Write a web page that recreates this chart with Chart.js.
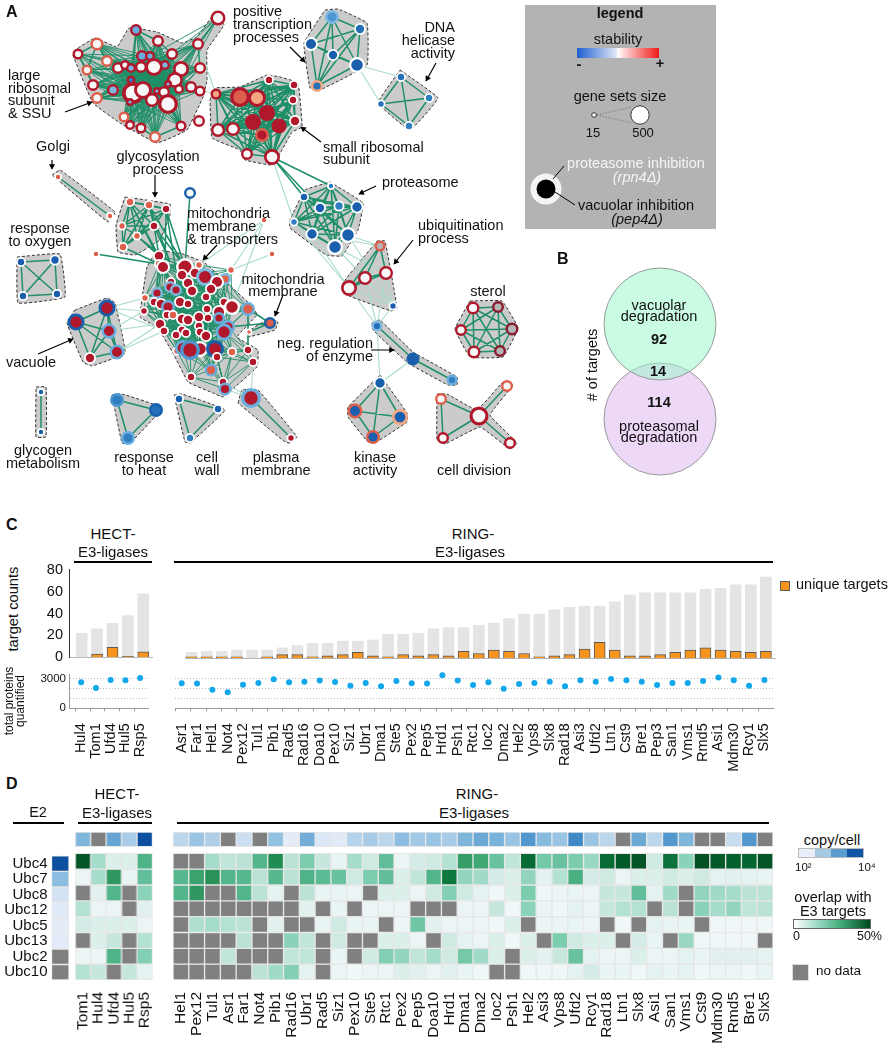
<!DOCTYPE html>
<html>
<head>
<meta charset="utf-8">
<script src="https://cdn.jsdelivr.net/npm/chart.js"></script>
<style>
  html, body { margin: 0; background: #fff; }
  #page { position: relative; width: 895px; height: 1050px; overflow: hidden; font-family: "Liberation Sans", Arial, sans-serif; color: #111; }
  #page canvas { position: absolute; }
  .t { position: absolute; white-space: nowrap; font-size: 14.5px; line-height: 1; }
  .box { position: absolute; }
</style>
</head>
<body>
<div id="page"></div>
<script>
// ---- panel C data
const cHectNames = ['Hul4','Tom1','Ufd4','Hul5','Rsp5'];
const cHectTotal = [22,26,31,38,58];
const cHectUnique = [0,3,9,1,5];
const cHectProteins = [2650,2070,2900,2860,3100];
const cRingNames = ['Asr1','Far1','Hel1','Not4','Pex12','Tul1','Pib1','Rad5','Rad16','Doa10','Pex10','Siz1','Ubr1','Dma1','Ste5','Pex2','Pep5','Hrd1','Psh1','Rtc1','Ioc2','Dma2','Hel2','Vps8','Slx8','Rad18','Asi3','Ufd2','Ltn1','Cst9','Bre1','Pep3','San1','Vms1','Rmd5','Asi1','Mdm30','Rcy1','Slx5'];
const cRingTotal = [5,6,6,7,7,7,9,11,13,13,15,15,16,21,21,22,26,27,27,29,31,35,39,39,43,45,46,46,50,56,58,58,58,58,61,62,65,65,72];
const cRingUnique = [1,1,1,1,0,1,3,3,1,2,3,5,2,1,3,2,3,2,6,4,7,6,4,1,2,3,8,14,7,2,2,3,5,7,9,7,6,5,6];
const cRingProteins = [2550,2520,1900,1650,2410,2590,2970,2650,2720,2830,2690,2310,2590,2240,2790,2550,2520,3380,2830,2380,2650,2000,2480,2590,2720,2240,2860,2720,3000,2860,2720,2380,2590,2590,2790,3140,2860,2310,2900];

// ---- panel D data (null = no data)
const e2Names = ['Ubc4','Ubc7','Ubc8','Ubc12','Ubc5','Ubc13','Ubc2','Ubc10'];
const e2Copies = [4,2.9,2.3,2.15,2.1,2.12,null,null];
const dHectNames = ['Tom1','Hul4','Ufd4','Hul5','Rsp5'];
const dHectCopies = [3,null,3.2,2.7,4];
const dHectOverlap = [
  [48,14,6,6,28],
  [2,14,34,3,24],
  [null,5,27,null,18],
  [12,2,2,null,5],
  [7,6,6,6,2],
  [null,6,9,null,12],
  [2,2,28,null,19],
  [12,9,null,9,4]
];
const dRingNames = ['Hel1','Pex12','Tul1','Asr1','Far1','Not4','Pib1','Rad16','Ubr1','Rad5','Siz1','Pex10','Ste5','Rtc1','Pex2','Pep5','Doa10','Hrd1','Dma1','Dma2','Ioc2','Psh1','Hel2','Asi3','Vps8','Ufd2','Rcy1','Rad18','Ltn1','Slx8','Asi1','San1','Vms1','Cst9','Mdm30','Rmd5','Bre1','Slx5'];
const dRingCopies = [2.55,2.8,2.65,null,2.4,null,2.85,2.1,3.1,2.2,2.15,2.6,2.7,2.55,2.9,2.75,2.8,2.7,3,3.15,3.05,2.8,3.35,2.95,2.8,3.5,2.8,2.55,null,3.15,2.55,3.35,3,null,null,2.45,3.35,null];
const dRingOverlap = [
  [null,null,14,10,11,27,37,11,20,9,3,14,8,24,2,7,8,12,33,31,23,10,44,21,23,20,16,44,47,48,8,43,18,49,47,46,45,48],
  [26,32,35,27,26,11,26,11,28,25,23,8,20,24,6,10,27,42,17,15,7,6,17,4,12,29,7,8,2,6,6,8,6,8,4,5,4,3],
  [27,34,null,null,27,11,4,null,11,3,3,2,null,6,6,2,8,19,8,4,1,6,20,1,2,3,2,9,9,24,4,15,null,17,15,14,11,11],
  [null,null,null,null,null,null,null,null,5,null,3,null,2,2,2,null,null,null,2,2,9,1,18,2,1,4,2,9,12,12,null,11,null,18,14,17,10,11],
  [null,13,14,12,11,null,5,null,null,3,8,3,3,null,2,22,5,2,2,2,1,6,null,2,3,3,2,null,1,null,4,3,3,null,1,1,1,1],
  [null,null,null,null,11,null,null,18,10,null,8,null,null,6,6,2,null,8,4,2,6,1,6,null,20,8,6,6,null,7,3,null,16,1,1,1,1,null],
  [null,null,null,10,null,null,null,10,10,null,3,null,8,19,17,10,14,8,21,15,6,null,6,4,9,23,4,2,2,6,2,2,4,3,5,5,5,4],
  [null,null,null,null,null,11,15,19,4,null,2,1,2,2,6,5,2,5,3,1,null,null,1,1,1,4,7,3,3,1,4,3,4,1,2,2,1,3]
];

// ---- panel B data
const vennCounts = [92,14,114];

// ---- panel A data: gene sets as [x, y, size, proteasome stability, vacuolar stability] on the map layout
const riboLarge = [[218,18,7.5,1,0],[136,30,6,1,-.6],[158,41,6,1,0],[198,44,6,1,0],[97,44,6.5,.6,0],[78,54,5.5,1,0],[172,54,6,1,0],[107,61,6,.6,0],[87,70,5.5,.6,0],[142,56,6,1,-.6],[150,56,5,1,-.6],[118,68,6,1,0],[125,65,5,1,0],[141,67,6,1,0],[154,67,9,1,0],[165,65,5,1,-.5],[181,69,8,1,0],[200,68,6,1,0],[131,68,5,1,-.5],[131,80,4.5,1,-.8],[93,85,6,1,0],[113,90,6,1,-.5],[175,80,8,1,0],[168,84,4,1,-.5],[191,87,6,1,0],[200,91,5.5,1,0],[179,89,5,1,0],[133,93,11,1,0],[143,90,9,1,0],[157,91,4,1,-.5],[164,92,6,1,0],[152,100,7,1,0],[168,104,10,1,0],[97,98,6,.6,0],[130,102,4,1,-.5],[124,117,5.5,.6,0],[130,125,5,1,0],[141,128,5.5,1,0],[181,126,5.5,1,0],[155,137,6,.6,0]];
const riboSmall = [[216,94,5.5,1,.4],[240,97,10,1,.6],[257,98,9,1,.4],[267,113,8,1,1],[253,122,8,1,1],[279,126,7.5,1,1],[262,135,7,.6,1],[218,130,7,1,0],[233,129,7,1,0],[247,154,6,1,0],[272,157,8,1,0],[269,80,5,0,1],[294,85,5,0,1],[293,100,5,0,1],[295,121,6,0,1]];
const transcription = [[332,17,7,-.5,-.7],[360,29,6,0,-.9],[311,44,7,0,-1],[333,55,6,0,-1],[357,65,8,0,-1],[317,86,6,.4,-.9]];
const helicase = [[401,77,5,0,-.9],[429,98,5,0,-.8],[381,104,4.5,0,-.9],[409,126,5,0,-.8]];
const proteasome = [[331,186,4,0,-.8],[304,197,5,0,-1],[320,208,6,0,-1],[339,206,5.5,0,-.8],[357,207,6.5,0,-1],[294,222,4.5,0,-.8],[312,234,6.5,0,-1],[348,235,8,0,-1],[335,247,8,0,-1]];
const ubiquitin = [[380,246,5.5,.6,null],[365,278,7,1,0],[386,273,7,1,0],[349,288,8,1,0]];
const ubiquitinSmall = [[393,306,4.5,0,-1]];
const negRegulation = [[377,326,5.5,-.5,-.9],[413,359,6.5,-1,-1],[452,380,5.5,-.6,-.8]];
const kinase = [[380,383,6.5,0,-1],[355,411,7.5,.6,-1],[400,417,8,.4,-1],[373,437,7,.6,-1]];
const cellDivision = [[441,399,6,.6,0],[507,386,6,.6,0],[479,416,9.5,1,0],[443,438,6,1,0],[510,443,6,1,0]];
const sterol = [[473,308,6.5,1,0],[498,307,6,1.3,null],[461,330,6,1,0],[512,329,6.5,1.3,null],[474,352,6.5,1,0],[500,351,6,1.3,null]];
const oxygen = [[21,262,5,0,-1],[55,260,5.5,0,-1],[23,296,5,0,-1],[57,294,5,0,-1]];
const vacuole = [[107,308,8.5,-1,1],[76,322,8.5,-1,1],[109,331,7.5,-.6,1],[117,352,7.5,-.6,1],[90,358,6,0,1]];
const glycogen = [[41,392,4,0,-1],[41,432,4,0,-1]];
const heat = [[117,400,7,-.7,-.8],[156,410,7,-1,-.9],[128,438,7,-.6,-.8]];
const cellWall = [[179,399,5,0,-1],[218,409,5,0,-1],[190,438,5,0,-.8]];
const plasma = [[251,398,10,-.6,1],[291,438,4.5,0,1]];
const golgi = [[58,177,4,0,.6],[110,216,4,0,.6]];
const glycosylation = [[130,202,5,0,.6],[149,205,5,0,.6],[166,209,5,0,1],[122,226,4.5,0,.6],[154,226,5,0,1],[137,236,4.5,0,.6],[123,247,5,0,.6]];
const mitoMembrane = [[270,323,6,-1,.6],[249,332,3.5,0,.6]];
const loose = [[190,193,6,-1,0],[264,220,4,0,.6],[96,254,4,0,.6],[272,254,4,0,.6],[199,121,6,1,0]];
const mito = [[159,256,6,0,1],[159,264,5,0,.6],[163,267,7,0,1],[185,267,9,0,1],[199,265,4.5,0,.6],[182,275,6,0,1],[195,273,6,0,1],[205,277,9,-.5,1],[231,270,4.5,0,.6],[225,279,6,-.5,.6],[217,282,7,0,1],[171,282,5,0,1],[170,287,6,-.5,1],[176,290,6,-.5,1],[188,283,6,0,1],[192,291,6,0,1],[211,289,6,0,1],[157,293,6,-.5,1],[145,298,4.5,0,.6],[144,311,4.5,0,1],[154,302,5,0,1],[161,304,6,0,1],[168,307,7,-.6,1],[180,302,6,0,1],[188,304,5,0,1],[206,297,5,0,1],[224,302,5,0,1],[232,307,8,0,1],[248,309,7,-.6,.6],[219,312,7,0,1],[207,309,5,0,1],[167,315,5,0,1],[173,315,5,0,.6],[182,319,6,0,1],[188,320,6,0,1],[199,317,6,0,1],[208,318,5,0,1],[219,318,6,-.6,1],[160,324,6,0,1],[164,331,5,0,1],[182,330,5,0,1],[199,326,5,0,1],[200,332,5,0,1],[176,335,5,0,1],[186,333,5,0,1],[206,336,6,0,1],[228,327,7,-.6,1],[224,332,8.5,-.6,1],[177,351,4.5,0,.6],[183,348,8,-.6,1],[200,349,8,0,1],[190,350,10,-.7,1],[215,349,9,-1,1],[217,357,5,0,1],[232,352,5,0,.6],[248,350,5,0,1],[253,362,5,0,1],[211,370,6.5,-.6,.6],[191,377,5,0,1],[223,382,5,0,1],[225,389,6.5,-.6,1]];

// cluster outlines on the same layout
const hulls = [
  [[78,48],[95,38],[117,47],[129,28],[157,32],[182,43],[197,37],[215,13],[224,25],[207,50],[207,80],[203,97],[187,130],[157,143],[120,123],[93,103],[73,55]],
  [[210,100],[215,88],[240,87],[267,75],[280,77],[298,83],[302,127],[292,132],[282,150],[272,165],[245,160],[240,150],[212,138]],
  [[325,10],[338,9],[367,23],[367,65],[320,90],[310,88],[304,43]],
  [[400,70],[438,98],[410,130],[378,103]],
  [[330,182],[363,203],[358,230],[342,256],[326,255],[290,228],[290,220],[305,190]],
  [[377,241],[385,241],[397,308],[391,311],[347,295],[343,283]],
  [[372,323],[380,320],[413,352],[457,377],[457,385],[448,385],[408,363],[373,330]],
  [[380,375],[407,413],[407,422],[375,443],[368,442],[348,417],[348,407]],
  [[437,394],[447,394],[477,410],[503,382],[513,385],[490,415],[517,443],[510,449],[480,427],[445,444],[437,440]],
  [[470,301],[502,301],[518,328],[503,357],[470,357],[455,329]],
  [[17,257],[60,254],[65,297],[18,303]],
  [[75,310],[107,298],[115,303],[125,353],[92,366],[83,362],[67,323]],
  [[36,387],[46,387],[46,437],[36,437]],
  [[112,395],[122,394],[162,408],[130,443],[122,443]],
  [[174,395],[182,394],[225,410],[190,443],[185,442]],
  [[238,403],[242,390],[258,390],[297,437],[290,443],[285,442]],
  [[52,175],[60,170],[115,212],[108,222]],
  [[125,197],[170,204],[170,215],[160,240],[135,255],[118,252],[116,225]],
  [[157,250],[183,254],[205,263],[227,283],[253,307],[257,315],[237,337],[258,350],[257,367],[223,397],[213,393],[188,382],[173,353],[157,327],[140,317],[147,267]],
  [[247,332],[270,318],[278,322],[275,330],[248,337]]
];

// links between clusters [x1,y1,x2,y2]
const paleLinks = [[200,50,216,94],[203,91,216,94],[357,65,401,77],[357,65,381,104],[272,157,294,222],[312,234,380,246],[348,235,380,246],[335,247,365,278],[335,247,386,273],[312,234,349,288],[348,235,393,306],[294,222,349,288],[349,288,377,326],[365,278,377,326],[393,306,377,326],[386,273,377,326],[377,326,380,383],[413,359,380,383],[107,308,145,298],[107,308,144,311],[109,331,160,324],[117,352,164,331],[107,308,164,331],[117,352,160,324],[109,331,144,311],[223,382,251,398],[225,389,251,398],[253,362,251,398],[264,220,231,270],[272,254,231,270],[264,220,199,265],[232,307,264,220],[380,246,393,306],[365,278,393,306],[386,273,393,306],[349,288,393,306]];
const strongLinks = [[272,157,331,186],[272,157,304,197],[272,157,320,208],[96,254,159,264],[166,209,165,270],[154,226,170,262],[149,205,182,262],[166,209,185,267],[137,236,159,256],[123,247,159,264],[154,226,159,256],[130,202,163,267],[190,193,185,267],[248,309,270,323],[228,327,270,323],[249,332,270,323],[166,209,176,270],[149,205,170,262],[154,226,185,267],[137,236,170,262],[130,202,159,256]];
const riboOuterLinks = [[97,44,78,54],[78,54,87,70],[97,44,87,70],[97,44,107,61],[87,70,93,85],[93,85,113,90],[78,54,93,85],[107,61,118,68],[136,30,158,41],[158,41,172,54],[172,54,198,44],[198,44,218,18],[198,44,200,68],[130,125,141,128],[124,117,130,125],[155,137,141,128],[181,126,168,104],[155,137,181,126],[97,98,113,90]];
const cellDivisionLinks = [[441,399,479,416],[507,386,479,416],[443,438,479,416],[510,443,479,416],[441,399,443,438]];

// annotation arrows [tail x, tail y, tip x, tip y]
const arrows = [[65,112,92,102],[52,160,52,169],[155,175,155,197],[290,47,305,62],[436,63,426,81],[321,142,301,127],[376,186,359,194],[413,240,394,264],[217,245,203,260],[283,295,275,316],[371,350,394,350],[38,354,73,339]];

// [text, x, y centre, align]
const mapLabels = [
  ['large',8,75,'l'],['ribosomal',8,88,'l'],['subunit',8,100,'l'],['& SSU',8,113,'l'],
  ['positive',233,11,'l'],['transcription',233,24,'l'],['processes',233,37,'l'],
  ['DNA',455,27,'r'],['helicase',455,40,'r'],['activity',455,53,'r'],
  ['small ribosomal',323,147,'l'],['subunit',323,159,'l'],
  ['Golgi',53,146,'c'],['glycosylation',158,156,'c'],['process',158,169,'c'],
  ['mitochondria',187,213,'l'],['membrane',187,226,'l'],['& transporters',187,239,'l'],
  ['response',40,228,'c'],['to oxygen',40,241,'c'],
  ['proteasome',382,182,'l'],['ubiquitination',418,225,'l'],['process',418,238,'l'],
  ['sterol',488,291,'c'],['mitochondria',283,279,'c'],['membrane',283,291,'c'],
  ['neg. regulation',373,343,'r'],['of enzyme',373,356,'r'],
  ['vacuole',31,362,'c'],['glycogen',43,450,'c'],['metabolism',43,463,'c'],
  ['response',144,457,'c'],['to heat',144,470,'c'],['cell',207,457,'c'],['wall',207,470,'c'],
  ['plasma',276,457,'c'],['membrane',276,470,'c'],['kinase',375,457,'c'],['activity',375,470,'c'],['cell division',474,470,'c']
];

const page = document.getElementById('page');

function lerpStops(stops, v) {
  if (v <= stops[0][0]) return stops[0][1];
  for (let i = 1; i < stops.length; i++) {
    if (v <= stops[i][0]) {
      const f = (v - stops[i-1][0]) / (stops[i][0] - stops[i-1][0]);
      const a = stops[i-1][1], b = stops[i][1];
      const mix = [1,3,5].map(k => Math.round(parseInt(a.substr(k,2),16)*(1-f) + parseInt(b.substr(k,2),16)*f));
      return 'rgb(' + mix.join(',') + ')';
    }
  }
  return stops[stops.length-1][1];
}
const stabStops = [[-1,'#1a5fad'],[-.8,'#2f7ec1'],[-.6,'#6aaede'],[-.3,'#a7cfe9'],[0,'#f8f8f8'],[.4,'#f4a582'],[.6,'#dd5f4b'],[1,'#b2182b'],[1.3,'#8a1a2d']];
const overlapStops = [[0,'#f3f8fa'],[5,'#e2f1f0'],[10,'#c0e5d9'],[15,'#a0dac8'],[20,'#7cccae'],[25,'#5bbb95'],[30,'#45ad7c'],[35,'#2a9258'],[40,'#118447'],[45,'#03652f'],[50,'#004a20']];
const copyStops = [[2,'#eef1fb'],[2.5,'#c3daee'],[3,'#7fb6dc'],[3.5,'#3f8ac6'],[4,'#0d4f9f']];
const NO_DATA = '#808080';
const stabColor = v => v === null ? '#b5b5b5' : lerpStops(stabStops, v);
const overlapColor = v => v === null ? NO_DATA : lerpStops(overlapStops, v);
const copyColor = v => v === null ? NO_DATA : lerpStops(copyStops, v);

function text(str, x, y, opts) {
  opts = opts || {};
  const d = document.createElement('div');
  d.className = 't';
  d.textContent = str;
  const a = opts.align || 'c';
  const tx = a === 'l' ? '0' : a === 'r' ? '-100%' : '-50%';
  d.style.left = x + 'px';
  d.style.top = y + 'px';
  d.style.transform = 'translate(' + tx + ',-50%)' + (opts.rot ? ' rotate(' + opts.rot + 'deg)' : '');
  if (opts.size) d.style.fontSize = opts.size + 'px';
  if (opts.bold) d.style.fontWeight = 'bold';
  if (opts.italic) d.style.fontStyle = 'italic';
  if (opts.color) d.style.color = opts.color;
  page.appendChild(d);
  return d;
}
function box(x, y, w, h, css) {
  const d = document.createElement('div');
  d.className = 'box';
  d.style.cssText = 'left:' + x + 'px;top:' + y + 'px;width:' + w + 'px;height:' + h + 'px;' + (css || '');
  page.appendChild(d);
  return d;
}
function canvasAt(x, y, w, h) {
  const c = document.createElement('canvas');
  c.width = w; c.height = h;
  c.style.left = x + 'px'; c.style.top = y + 'px';
  c.style.width = w + 'px'; c.style.height = h + 'px';
  page.appendChild(c);
  return c;
}
const baseOptions = { responsive: false, animation: false, devicePixelRatio: 1, events: [], plugins: { legend: { display: false }, tooltip: { enabled: false } } };

// ---- panel A + B background box
box(525, 5, 191, 224, 'background:#b3b3b3');

function segs(list) {
  const pts = [];
  list.forEach(s => { pts.push({x:s[0],y:s[1]},{x:s[2],y:s[3]},{x:null,y:null}); });
  return pts;
}
function clique(nodes, maxDist) {
  const out = [];
  for (let i = 0; i < nodes.length; i++) for (let j = i+1; j < nodes.length; j++) {
    if (Math.hypot(nodes[i][0]-nodes[j][0], nodes[i][1]-nodes[j][1]) <= maxDist) out.push([nodes[i][0],nodes[i][1],nodes[j][0],nodes[j][1]]);
  }
  return out;
}
// every ribosomal gene set fans into the crowded middle of the cluster
const riboCore = riboLarge.filter(n => Math.hypot(n[0]-150, n[1]-85) < 30);
const riboFans = [];
riboLarge.forEach(n => riboCore.forEach(c => {
  if (n !== c && Math.hypot(n[0]-c[0], n[1]-c[1]) < 85) riboFans.push([n[0],n[1],c[0],c[1]]);
}));
const smallClusters = [riboSmall,transcription,helicase,proteasome,ubiquitin,kinase,sterol,oxygen,vacuole,glycogen,heat,cellWall,plasma,golgi,glycosylation,mitoMembrane];
const chainLinks = [[377,326,413,359],[413,359,452,380]];
let allEdges = [];
smallClusters.forEach(c => { allEdges = allEdges.concat(clique(c, 90)); });
allEdges = allEdges.concat(strongLinks, chainLinks, cellDivisionLinks, riboOuterLinks);
const denseEdges = riboFans.concat(clique(mito, 42));
const allNodes = [].concat(riboLarge,riboSmall,transcription,helicase,proteasome,ubiquitin,ubiquitinSmall,negRegulation,kinase,cellDivision,sterol,oxygen,vacuole,glycogen,heat,cellWall,plasma,golgi,glycosylation,mitoMembrane,loose,mito);
// coloured rings read heavier than the white ones
const ringWidth = n => n[3] === 0 ? Math.max(1.8, n[2]*0.28) : Math.max(2.4, n[2]*0.33);

const mapDatasets = [];
hulls.forEach(h => {
  const pts = h.concat([h[0]]).map(p => ({x:p[0],y:p[1]}));
  mapDatasets.push({ data: pts, showLine: true, fill: 'shape', backgroundColor: '#cbcbcb', borderColor: '#333', borderWidth: 1, borderDash: [3,2], borderJoinStyle: 'round', tension: 0.08, pointRadius: 0, order: 100 });
});
mapDatasets.push({ data: segs(paleLinks), showLine: true, borderColor: '#a9dcc8', borderWidth: 1.1, pointRadius: 0, order: 90 });
mapDatasets.push({ data: segs(denseEdges), showLine: true, borderColor: '#1f8f68', borderWidth: 0.9, pointRadius: 0, order: 80 });
mapDatasets.push({ data: segs(allEdges), showLine: true, borderColor: '#1f8f68', borderWidth: 1.5, pointRadius: 0, order: 80 });
mapDatasets.push({
  data: allNodes.map(n => ({x:n[0],y:n[1]})),
  pointRadius: allNodes.map(n => n[2] - ringWidth(n)/2),
  pointBorderWidth: allNodes.map(n => ringWidth(n)),
  pointBackgroundColor: allNodes.map(n => stabColor(n[4])),
  pointBorderColor: allNodes.map(n => n[3] === 0 ? '#fff' : stabColor(n[3])),
  order: 50
});
// arrows
mapDatasets.push({ data: segs(arrows), showLine: true, borderColor: '#000', borderWidth: 1.2, pointRadius: 0, order: 10 });
mapDatasets.push({
  data: arrows.map(a => { const l = Math.hypot(a[2]-a[0],a[3]-a[1]); return {x:a[2]-(a[2]-a[0])/l*3, y:a[3]-(a[3]-a[1])/l*3}; }),
  pointStyle: 'triangle', pointRadius: 3.6, backgroundColor: '#000', borderColor: '#000', pointBorderWidth: 0,
  rotation: arrows.map(a => Math.atan2(a[2]-a[0], -(a[3]-a[1]))*180/Math.PI), order: 9
});
// legend marks inside the grey box
mapDatasets.push({ data: segs([[597,115,632,107],[597,115,632,123]]), showLine: true, borderColor: '#555', borderWidth: 0.8, borderDash: [1,2], pointRadius: 0, order: 8 });
mapDatasets.push({ data: [{x:594,y:115},{x:640,y:115}], pointRadius: [2.3,9.2], pointBorderWidth: [1,1], backgroundColor: '#fff', borderColor: '#333', order: 7 });
mapDatasets.push({ data: [{x:546,y:189}], pointRadius: 12.5, pointBorderWidth: 6, backgroundColor: '#000', borderColor: '#f4f4f4', order: 7 });
mapDatasets.push({ data: segs([[553,179,564,166],[555,192,575,205]]), showLine: true, borderColor: '#000', borderWidth: 1, pointRadius: 0, order: 6 });
// venn, panel B
mapDatasets.push({ data: [{x:660,y:324}], pointRadius: 56, backgroundColor: 'rgba(150,247,200,.5)', borderColor: '#999', pointBorderWidth: 1, order: 40 });
mapDatasets.push({ data: [{x:660,y:419}], pointRadius: 56, backgroundColor: '#eed8f8', borderColor: '#999', pointBorderWidth: 1, order: 41 });

new Chart(canvasAt(0, 0, 720, 490), {
  type: 'scatter',
  data: { datasets: mapDatasets },
  options: Object.assign({}, baseOptions, {
    layout: { padding: 0, autoPadding: false },
    scales: {
      x: { display: false, min: 0, max: 720 },
      y: { display: false, min: 0, max: 490, reverse: true }
    }
  })
});

mapLabels.forEach(l => text(l[0], l[1], l[2], { align: l[3] }));
text('A', 6, 12, { align: 'l', bold: true, size: 16 });
text('B', 557, 259, { align: 'l', bold: true, size: 16 });
text('C', 6, 525, { align: 'l', bold: true, size: 16 });
text('D', 6, 784, { align: 'l', bold: true, size: 16 });

// legend text
text('legend', 620, 13, { bold: true, size: 14.5 });
text('stability', 618, 39);
box(577, 48, 82, 10, 'background:linear-gradient(to right,#1f5fd0,#dfe6f6 48%,#fff 50%,#fdd 56%,#f01818)');
text('-', 579, 64, { bold: true });
text('+', 660, 63, { bold: true });
text('gene sets size', 620, 96);
text('15', 593, 132, { size: 13 });
text('500', 643, 132, { size: 13 });
text('proteasome inhibition', 636, 163, { color: '#f5f5f5' });
text('(rpn4\u0394)', 637, 177, { color: '#f5f5f5', italic: true });
text('vacuolar inhibition', 636, 205);
text('(pep4\u0394)', 637, 219, { italic: true });

// venn text
text('vacuolar', 659, 305);
text('degradation', 659, 316);
text(String(vennCounts[0]), 659, 339, { bold: true });
text(String(vennCounts[1]), 658, 371, { bold: true });
text(String(vennCounts[2]), 659, 402, { bold: true });
text('proteasomal', 659, 426);
text('degradation', 659, 437);
text('# of targets', 592, 365, { rot: -90 });

// ---- panel C
const xy = arr => arr.map((v,i) => ({x:i,y:v}));

function countChart(left, areaLeft, areaRight, firstCentre, step, names, total, unique, showAxis) {
  const w = areaRight + 10 - left;
  return new Chart(canvasAt(left, 558, w, 111), {
    type: 'bar',
    data: { datasets: [
      { data: xy(unique), backgroundColor: '#f7941d', borderColor: '#5a5a5a', borderWidth: 1, barThickness: 11, grouped: false, order: 1 },
      { data: xy(total), backgroundColor: '#e4e4e4', barThickness: 11, grouped: false, order: 2 }
    ]},
    options: Object.assign({}, baseOptions, {
      layout: { padding: { top: 10, bottom: 10, right: 10, left: showAxis ? 0 : 10 }, autoPadding: false },
      scales: {
        x: { type: 'linear', offset: false, min: (areaLeft-firstCentre)/step, max: (areaRight-firstCentre)/step,
             ticks: { display: false }, grid: { display: false, offset: false }, border: { color: '#b5b5b5' },
             afterFit: s => { s.height = 1; } },
        y: { display: showAxis, min: 0, max: 80,
             ticks: { stepSize: 10, color: '#111', font: { family: 'Liberation Sans', size: 14.5 }, padding: 3,
                      callback: v => v % 20 === 0 ? v : '' },
             grid: { display: false, drawOnChartArea: false, drawTicks: true, tickLength: 3, tickColor: '#333' },
             border: { color: '#333' },
             afterFit: s => { s.width = areaLeft - left; } }
      }
    })
  });
}

function proteinChart(left, areaLeft, areaRight, firstCentre, step, names, values, showAxis) {
  const w = areaRight + 10 - left;
  const xMin = (areaLeft-firstCentre)/step, xMax = (areaRight-firstCentre)/step;
  return new Chart(canvasAt(left, 664, w, 114), {
    type: 'scatter',
    data: { datasets: [{ data: xy(values), pointRadius: 3, backgroundColor: '#12a7ec', borderColor: '#12a7ec', pointBorderWidth: 0, clip: false }] },
    options: Object.assign({}, baseOptions, {
      layout: { padding: { top: 10, right: 10, left: showAxis ? 0 : 10, bottom: 0 }, autoPadding: false },
      scales: {
        xm: { axis: 'x', type: 'linear', position: 'bottom', weight: 0, min: xMin, max: xMax,
              afterBuildTicks: s => { s.ticks = names.map((_,i) => ({value:i-0.4})); },
              ticks: { display: false, autoSkip: false },
              grid: { drawOnChartArea: false, tickLength: 3, tickColor: '#999' }, border: { color: '#999' },
              afterFit: s => { s.height = 4; } },
        x: { type: 'linear', position: 'bottom', weight: 1, min: xMin, max: xMax,
             afterBuildTicks: s => { s.ticks = names.map((_,i) => ({value:i})); },
             ticks: { autoSkip: false, minRotation: 90, maxRotation: 90, padding: 3, color: '#111',
                      font: { family: 'Liberation Sans', size: 14.5 }, callback: v => names[v] },
             grid: { display: false }, border: { display: false },
             afterFit: s => { s.height = 65.7; } },
        y: { display: true, min: 0, max: 3500,
             afterBuildTicks: s => { s.ticks = [0,1000,2000,3000].map(v => ({value:v})); },
             ticks: { display: showAxis, autoSkip: false, color: '#111', padding: 3, font: { family: 'Liberation Sans', size: 11.5 },
                      callback: v => (v === 0 || v === 3000) ? v : '' },
             grid: { drawTicks: false, color: c => c.tick.value === 0 ? 'transparent' : '#bdbdbd', lineWidth: 1 },
             border: { display: showAxis, color: '#999', dash: [1,2] },
             afterFit: s => { s.width = showAxis ? areaLeft - left : 0; } }
      }
    })
  });
}

countChart(30, 69, 152, 81.7, 15.4, cHectNames, cHectTotal, cHectUnique, true);
countChart(165, 175, 775, 181.7, 15.37, cRingNames, cRingTotal, cRingUnique, false);
proteinChart(30, 69, 152, 81.7, 15.4, cHectNames, cHectProteins, true);
proteinChart(165, 175, 775, 181.7, 15.37, cRingNames, cRingProteins, false);

text('HECT-', 113, 533, { size: 15 });
text('E3-ligases', 113, 551, { size: 15 });
box(74, 561, 78, 1.5, 'background:#000');
text('RING-', 473, 533, { size: 15 });
text('E3-ligases', 470, 551, { size: 15 });
box(174, 561, 599, 1.5, 'background:#000');
text('target counts', 13, 609, { size: 14.7, rot: -90 });
text('total proteins', 9, 701, { size: 12, rot: -90 });
text('quantified', 20, 701, { size: 12, rot: -90 });
box(780, 581, 8, 8, 'background:#f7941d;border:1px solid #5a5a5a');
text('unique targets', 796, 584, { align: 'l' });

// ---- panel D
const STRIP_TOP = -1.35, STRIP_BOTTOM = -0.42;
function heatChart(areaLeft, areaRight, names, copies, rows) {
  const datasets = [{
    data: copies.map(() => [STRIP_TOP, STRIP_BOTTOM]),
    backgroundColor: copies.map(copyColor), borderColor: '#e6e6e6', borderWidth: 1, borderSkipped: false, grouped: false,
    barPercentage: 1, categoryPercentage: 1
  }];
  rows.forEach((row, r) => datasets.push({
    data: row.map(() => [r, r+1]),
    backgroundColor: row.map(overlapColor), borderColor: '#e6e6e6', borderWidth: 1, borderSkipped: false, grouped: false,
    barPercentage: 1, categoryPercentage: 1
  }));
  return new Chart(canvasAt(areaLeft-24, 822, areaRight-areaLeft+48, 228), {
    type: 'bar',
    data: { labels: names, datasets: datasets },
    options: Object.assign({}, baseOptions, {
      layout: { padding: { top: 10, left: 24, right: 24, bottom: 0 }, autoPadding: false },
      scales: {
        x: { ticks: { autoSkip: false, minRotation: 90, maxRotation: 90, padding: 12, color: '#111', font: { family: 'Liberation Sans', size: 15.5 } },
             grid: { display: false, drawTicks: false }, border: { display: false }, afterFit: s => { s.height = 70; } },
        y: { display: false, min: STRIP_TOP, max: 8, reverse: true }
      }
    })
  });
}
heatChart(75.3, 154, dHectNames, dHectCopies, dHectOverlap);
heatChart(173.3, 773.3, dRingNames, dRingCopies, dRingOverlap);

new Chart(canvasAt(0, 822, 69, 228), {
  type: 'bar',
  data: { labels: ['E2'], datasets: e2Copies.map((v, r) => ({
    data: [[r, r+1]], backgroundColor: copyColor(v), borderColor: '#e6e6e6', borderWidth: 1, borderSkipped: false, grouped: false,
    barPercentage: 1, categoryPercentage: 1
  })) },
  options: Object.assign({}, baseOptions, {
    layout: { padding: { top: 10, bottom: 70, right: 0, left: 0 }, autoPadding: false },
    scales: {
      x: { display: false },
      y: { min: STRIP_TOP, max: 8, reverse: true,
           afterBuildTicks: s => { s.ticks = e2Names.map((_,i) => ({value:i+0.5})); },
           ticks: { autoSkip: false, padding: 4, color: '#111', font: { family: 'Liberation Sans', size: 15 }, callback: v => e2Names[v-0.5] },
           grid: { display: false, drawTicks: false }, border: { display: false },
           afterFit: s => { s.width = 51.5; } }
    }
  })
});

text('E2', 38, 812, { size: 14.5 });
box(13, 822, 51, 1.5, 'background:#000');
text('HECT-', 117, 793, { size: 15 });
text('E3-ligases', 117, 812, { size: 15 });
box(78, 822, 74, 1.5, 'background:#000');
text('RING-', 477, 793, { size: 15 });
text('E3-ligases', 474, 812, { size: 15 });
box(177, 822, 592, 1.5, 'background:#000');

// right-hand keys of panel D
text('copy/cell', 832, 840);
box(799, 849, 64, 8, 'background:linear-gradient(to right,#e8eefa 25%,#a5c8e3 25% 50%,#5a9bd0 50% 75%,#0f56a6 75%);outline:1px solid #bbb');
text('10\u00b2', 795, 868, { align: 'l', size: 11.5 });
text('10\u2074', 858, 868, { align: 'l', size: 11.5 });
text('overlap with', 833, 897);
text('E3 targets', 833, 911);
box(794, 920, 76, 8, 'background:linear-gradient(to right,#fff,#a0dac8 30%,#45ad7c 60%,#004a20);outline:1px solid #666');
text('0', 793, 936, { align: 'l', size: 12.5 });
text('50%', 882, 936, { align: 'r', size: 12.5 });
box(793, 965, 15, 15, 'background:' + NO_DATA + ';outline:1px solid #ddd');
text('no data', 816, 971, { align: 'l', size: 13.5 });
</script>
</body>
</html>
